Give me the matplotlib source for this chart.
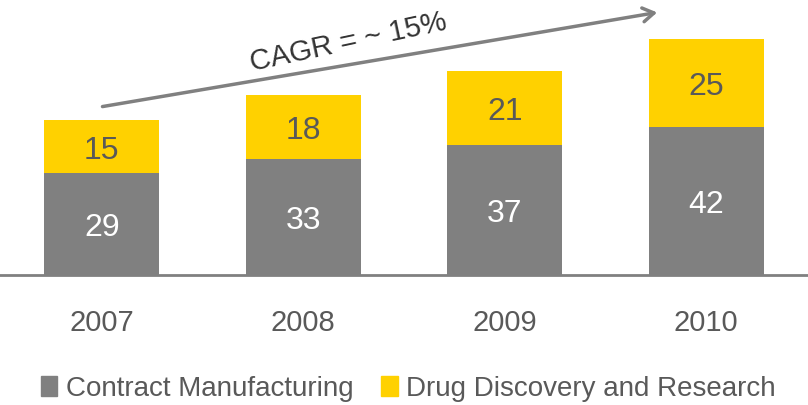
import matplotlib.pyplot as plt
from matplotlib.patches import Patch

years = ["2007", "2008", "2009", "2010"]
contract = [29, 33, 37, 42]
discovery = [15, 18, 21, 25]

grey = "#808080"
yellow = "#FFD100"
txt = "#595959"
plt.rcParams['font.family'] = ['Liberation Sans', 'DejaVu Sans']

fig = plt.figure(figsize=(8.08, 4.05), dpi=100)
ax = fig.add_axes([0, 0.321, 1, 0.679])

x = range(len(years))
ax.bar(x, contract, width=0.572, color=grey)
ax.bar(x, discovery, width=0.572, bottom=contract, color=yellow)

# labels sit a little below segment centre, like the original
off = 1.2
for i in x:
    ax.text(i, contract[i] / 2 - off, str(contract[i]), ha='center', va='center',
            color='white', fontsize=23)
    ax.text(i, contract[i] + discovery[i] / 2 - off, str(discovery[i]), ha='center',
            va='center', color=txt, fontsize=23)
    ax.text(i, -13.5, years[i], ha='center', va='center', color=txt, fontsize=21)

ax.set_xlim(-0.505, 3.505)
ax.set_ylim(0, 78.1)
ax.axhline(0, color=grey, lw=2, clip_on=False)
ax.axis('off')

# CAGR arrow
ax.annotate("", xy=(2.77, 74.7), xytext=(-0.01, 47.7),
            arrowprops=dict(arrowstyle='->,head_length=0.8,head_width=0.5',
                            color=grey, lw=2.5))
ax.text(1.226, 66.0, "CAGR = ~ 15%", ha='center', va='center', rotation=12,
        color="#333333", fontsize=21)

handles = [Patch(color=grey, label="Contract Manufacturing"),
           Patch(color=yellow, label="Drug Discovery and Research")]
leg = fig.legend(handles=handles, loc='center', bbox_to_anchor=(0.505, 0.04),
                 ncol=2, frameon=False, fontsize=20, handlelength=0.6,
                 handleheight=0.7, handletextpad=0.3, columnspacing=1.0)
for t in leg.get_texts():
    t.set_color(txt)

fig.savefig("out.png", dpi=100)
